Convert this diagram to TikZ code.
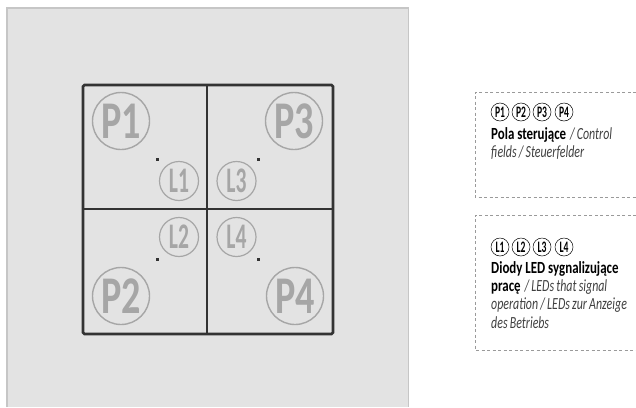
\documentclass[tikz,border=0pt]{standalone}
\usepackage{fontspec}
\setmainfont{Carlito}
\newfontfamily\cond[FakeStretch=0.72]{Carlito}
\newfontfamily\condb[FakeStretch=0.6]{Carlito}
\newfontfamily\legb[FakeStretch=0.76]{Carlito}
\newfontfamily\legi[FakeStretch=0.7]{Carlito}
\definecolor{plate}{HTML}{E3E3E3}
\definecolor{edgeg}{HTML}{C6C6C6}
\definecolor{frame}{HTML}{333333}
\definecolor{markg}{HTML}{A6A6A6}
\definecolor{dashg}{HTML}{9A9A9A}
\definecolor{txt}{HTML}{404040}
\tikzset{
 x=1pt,y=-1pt,
 bigmark/.style={circle,draw=markg,line width=1.4pt,text=markg,minimum size=57pt,inner sep=0pt,font=\fontsize{53}{53}\selectfont\bfseries\cond},
 smallmark/.style={circle,draw=markg,line width=1.2pt,text=markg,minimum size=39pt,inner sep=0pt,font=\fontsize{36}{36}\selectfont\bfseries\condb},
 led/.style={fill=frame,inner sep=0pt,minimum size=3pt},
 legmark/.style={circle,draw=black,line width=.5pt,text=black,minimum size=18pt,inner sep=0pt,font=\fontsize{16}{16}\selectfont\bfseries\condb},
 legtext/.style={anchor=north west,inner sep=0pt,align=left,font=\fontsize{17}{18.4}\selectfont,text=txt},
 dashline/.style={dashg,line width=.6pt,dash pattern=on 3pt off 2.5pt},
}
\newcommand{\lb}[1]{{\legb\bfseries\spaceskip=.17em\relax\color{black}#1}}
\newcommand{\li}[1]{{\legi\itshape\spaceskip=.13em\relax #1}}
\begin{document}
\begin{tikzpicture}
\useasboundingbox (0,0) rectangle (636,407);
\fill[white] (0,0) rectangle (636,407);
\fill[plate] (7,8) rectangle (408.5,407);
\draw[edgeg,line width=1.5pt] (7,407) -- (7,8) -- (408.5,8) -- (408.5,407);
\draw[frame,line width=2.6pt,rounded corners=1.5pt] (83,85) rectangle (333,334);
\draw[frame,line width=1.2pt] (207,85) -- (207,334);
\draw[frame,line width=1.2pt] (83,209) -- (333,209);
\node[bigmark] (p1) at (121,121) {P1};
\node[bigmark] (p3) at (294,121) {P3};
\node[bigmark] (p2) at (121,296) {P2};
\node[bigmark] (p4) at (295,296) {P4};
\node[smallmark] (l1) at (179,181) {L1};
\node[smallmark] (l3) at (236.5,181) {L3};
\node[smallmark] (l2) at (179,237) {L2};
\node[smallmark] (l4) at (236.5,237) {L4};
\node[led] (d1) at (157,159) {};
\node[led] (d3) at (258,159) {};
\node[led] (d2) at (157,259) {};
\node[led] (d4) at (258,259) {};
\draw[dashline] (636,92) -- (475,92) -- (475,197) -- (636,197);
\draw[dashline] (636,215) -- (475,215) -- (475,350) -- (636,350);
\node[legmark] (a1) at (500,112) {P1};
\node[legmark] (a2) at (521,112) {P2};
\node[legmark] (a3) at (542,112) {P3};
\node[legmark] (a4) at (564,112) {P4};
\node[legtext] (t1) at (491,127) {\lb{Pola sterujące} \li{/ Control}\\\li{fields / Steuerfelder}};
\node[legmark] (b1) at (500,247) {L1};
\node[legmark] (b2) at (521,247) {L2};
\node[legmark] (b3) at (542,247) {L3};
\node[legmark] (b4) at (564,247) {L4};
\node[legtext] (t2) at (491,261) {\lb{Diody LED sygnalizujące}\\\lb{pracę} \li{/ LEDs that signal}\\\li{operation / LEDs zur Anzeige}\\\li{des Betriebs}};
\end{tikzpicture}
\end{document}
